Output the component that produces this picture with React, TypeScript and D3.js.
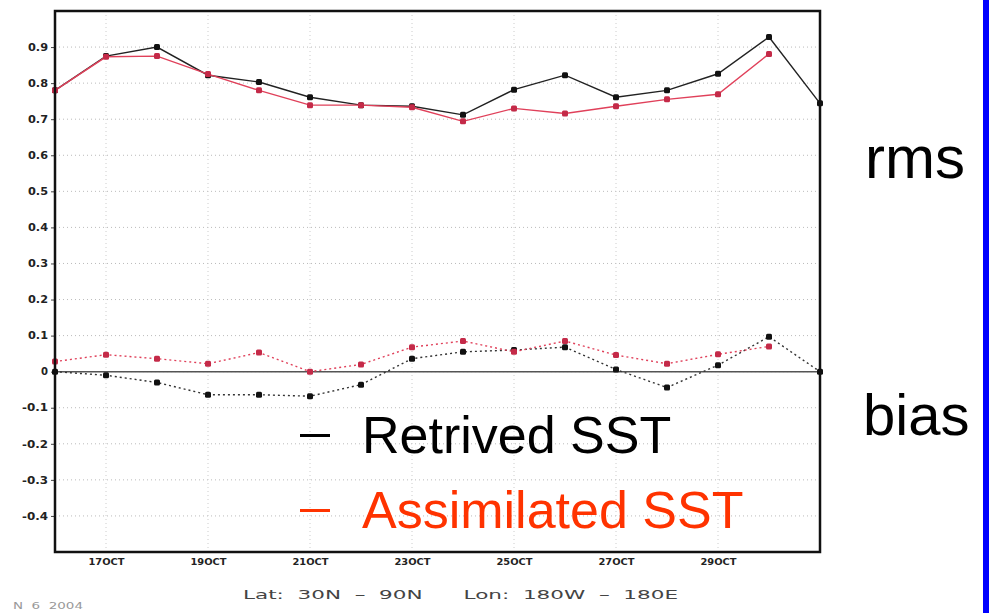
import React, { useEffect, useRef } from "react";
import * as d3 from "d3";

// days of October 2004
const days = [16, 17, 18, 19, 20, 21, 22, 23, 24, 25, 26, 27, 28, 29, 30, 31];
const daysAssim = [16, 17, 18, 19, 20, 21, 22, 23, 24, 25, 26, 27, 28, 29, 30];

const rmsRetrieved = [0.78, 0.875, 0.9, 0.822, 0.803, 0.761, 0.739, 0.736, 0.712, 0.782, 0.822, 0.761, 0.78, 0.826, 0.928, 0.744];
const rmsAssim = [0.78, 0.873, 0.875, 0.825, 0.78, 0.739, 0.739, 0.733, 0.694, 0.73, 0.716, 0.736, 0.755, 0.769, 0.881];

const biasRetrieved = [0.0, -0.01, -0.03, -0.064, -0.064, -0.068, -0.036, 0.036, 0.055, 0.06, 0.068, 0.006, -0.044, 0.018, 0.097, 0.0];
const biasAssim = [0.028, 0.047, 0.036, 0.022, 0.053, 0.0, 0.02, 0.068, 0.085, 0.055, 0.085, 0.046, 0.022, 0.048, 0.07];

const yTicks = [-0.4, -0.3, -0.2, -0.1, 0, 0.1, 0.2, 0.3, 0.4, 0.5, 0.6, 0.7, 0.8, 0.9];
const xTickDays = [17, 19, 21, 23, 25, 27, 29];
const xTickLabels = ["17OCT", "19OCT", "21OCT", "23OCT", "25OCT", "27OCT", "29OCT"];

const App = () => {
  const chartRef = useRef<SVGSVGElement>(null);

  useEffect(() => {
    drawChart();
  }, []);

  const drawChart = () => {
    const svg = d3.select(chartRef.current);
    svg.selectAll("*").remove();

    const left = 55, right = 820, top = 11, bottom = 552;

    const x = d3.scaleLinear().domain([16, 31]).range([left, right]);
    const y = d3.scaleLinear().domain([-0.5, 1.0]).range([bottom, top]);

    svg.append("rect").attr("width", 989).attr("height", 613).attr("fill", "white");

    // grid
    const grid = svg.append("g");
    grid.selectAll(".hg")
      .data(yTicks)
      .enter().append("line")
      .attr("x1", left).attr("x2", right)
      .attr("y1", d => y(d)).attr("y2", d => y(d))
      .attr("stroke", "#bbb").attr("stroke-width", 1)
      .attr("stroke-dasharray", "1,3");
    grid.selectAll(".vg")
      .data(xTickDays)
      .enter().append("line")
      .attr("x1", d => x(d)).attr("x2", d => x(d))
      .attr("y1", top).attr("y2", bottom)
      .attr("stroke", "#ccc").attr("stroke-width", 1)
      .attr("stroke-dasharray", "1,3");

    // zero line
    svg.append("line")
      .attr("x1", left).attr("x2", right)
      .attr("y1", y(0)).attr("y2", y(0))
      .attr("stroke", "#555").attr("stroke-width", 1.5);

    // y axis
    const yAxis = svg.append("g")
      .attr("transform", `translate(${left},0)`)
      .call(d3.axisLeft(y).tickValues(yTicks).tickSize(4).tickPadding(3)
        .tickFormat(d => (+d === 0 ? "0" : (+d).toFixed(1))));
    yAxis.select(".domain").remove();
    yAxis.selectAll("line").attr("stroke", "#444");
    yAxis.selectAll("text")
      .attr("font-family", "DejaVu Sans, sans-serif")
      .attr("font-weight", "bold")
      .attr("font-size", 10)
      .attr("fill", "#222")
      .attr("textLength", d => (+d === 0 ? 7 : +d < 0 ? 26 : 20))
      .attr("lengthAdjust", "spacingAndGlyphs");

    // x axis
    const xAxis = svg.append("g")
      .attr("transform", `translate(0,${bottom})`)
      .call(d3.axisBottom(x).tickValues(xTickDays).tickSize(0).tickPadding(7)
        .tickFormat((d, i) => xTickLabels[i]));
    xAxis.select(".domain").remove();
    xAxis.selectAll("text")
      .attr("font-family", "DejaVu Sans, sans-serif")
      .attr("font-weight", "bold")
      .attr("font-size", 8)
      .attr("fill", "#222")
      .attr("textLength", 36)
      .attr("lengthAdjust", "spacingAndGlyphs");

    // series
    const series = [
      { xs: days, ys: rmsRetrieved, line: "#222", mark: "#111", dash: null },
      { xs: daysAssim, ys: rmsAssim, line: "#e0405a", mark: "#c42a48", dash: null },
      { xs: days, ys: biasRetrieved, line: "#333", mark: "#111", dash: "2,3" },
      { xs: daysAssim, ys: biasAssim, line: "#e0405a", mark: "#c42a48", dash: "2,3" },
    ];

    const lineGen = d3.line<[number, number]>()
      .x(d => x(d[0]))
      .y(d => y(d[1]));

    series.forEach(s => {
      const pts: [number, number][] = s.xs.map((d, i) => [d, s.ys[i]]);
      const g = svg.append("g");
      g.append("path")
        .attr("d", lineGen(pts))
        .attr("fill", "none")
        .attr("stroke", s.line)
        .attr("stroke-width", 1.4)
        .attr("stroke-dasharray", s.dash);
      g.selectAll("rect")
        .data(pts)
        .enter().append("rect")
        .attr("x", d => x(d[0]) - 3)
        .attr("y", d => y(d[1]) - 3)
        .attr("width", 6)
        .attr("height", 6)
        .attr("rx", 1.5)
        .attr("fill", s.mark);
    });

    // frame
    svg.append("rect")
      .attr("x", left).attr("y", top)
      .attr("width", right - left).attr("height", bottom - top)
      .attr("fill", "none")
      .attr("stroke", "#111")
      .attr("stroke-width", 2.5);

    // caption
    svg.append("text")
      .attr("x", 243).attr("y", 599)
      .attr("font-family", "DejaVu Sans, sans-serif")
      .attr("font-size", 13)
      .attr("fill", "#444")
      .attr("textLength", 435)
      .attr("lengthAdjust", "spacingAndGlyphs")
      .style("white-space", "pre")
      .text("Lat:  30N  \u2013  90N      Lon:  180W  \u2013  180E");

    svg.append("text")
      .attr("x", 13).attr("y", 609)
      .attr("font-family", "DejaVu Sans, sans-serif")
      .attr("font-size", 9)
      .attr("fill", "#999")
      .attr("textLength", 70)
      .attr("lengthAdjust", "spacingAndGlyphs")
      .style("white-space", "pre")
      .text("N  6  2004");

    // legend
    const legend = [
      { label: "Retrived SST", color: "#000", y: 453 },
      { label: "Assimilated SST", color: "#ff3300", y: 528 },
    ];
    legend.forEach(l => {
      svg.append("rect")
        .attr("x", 300).attr("y", l.y - 19)
        .attr("width", 30).attr("height", 3)
        .attr("fill", l.color);
      svg.append("text")
        .attr("x", 362).attr("y", l.y)
        .attr("font-family", "Liberation Sans, Arial, sans-serif")
        .attr("font-size", 52)
        .attr("fill", l.color)
        .text(l.label);
    });

    // side labels
    svg.append("text")
      .attr("x", 865).attr("y", 178)
      .attr("font-family", "Liberation Sans, Arial, sans-serif")
      .attr("font-size", 60)
      .attr("fill", "#000")
      .text("rms");
    svg.append("text")
      .attr("x", 863).attr("y", 435)
      .attr("font-family", "Liberation Sans, Arial, sans-serif")
      .attr("font-size", 58)
      .attr("fill", "#000")
      .text("bias");

    // blue bar on the right
    svg.append("rect")
      .attr("x", 983).attr("y", 0)
      .attr("width", 6).attr("height", 613)
      .attr("fill", "#0000ff");
  };

  return (
    <div style={{ position: "absolute", left: 0, top: 0 }}>
      <svg ref={chartRef} width={989} height={613} />
    </div>
  );
};

export default App;
